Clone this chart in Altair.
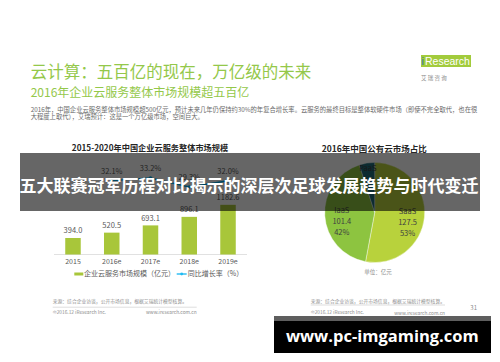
import altair as alt
import pandas as pd

# ---------------- data ----------------
years = ["2015", "2016e", "2017e", "2018e", "2019e"]
market = [394.0, 520.5, 693.1, 896.1, 1182.6]
growth = [None, 32.1, 33.2, 29.3, 32.0]

pie_names = ["SaaS", "IaaS", "PaaS"]
pie_values = [127.5, 101.4, 12.0]
pie_pct = ["53%", "42%", "5%"]

title_main = "云计算：五百亿的现在，万亿级的未来"
title_sub = "2016年企业云服务整体市场规模超五百亿"
body_lines = [
    "2016年，中国企业云服务整体市场规模超500亿元，预计未来几年仍保持约30%的年复合增长率。云服务的最终目标是整体软硬件市场（即使不完全取代，也在很",
    "大程度上取代），艾瑞预计：这是一个万亿级市场，空间巨大。",
]
bar_title = "2015-2020年中国企业云服务整体市场规模"
pie_title = "2016年中国公有云市场占比"
legend_bar = "企业云服务市场规模（亿元）"
legend_line = "同比增长率（%）"
unit_text = "单位：亿元"
source_text = "来源：综合企业访谈，公开市场信息，根据艾瑞统计模型核算。"
copyright_text = "©2016.12 iResearch Inc."
site_text = "www.iresearch.com.cn"
page_no = "31"
banner_text = "五大联赛冠军历程对比揭示的深层次足球发展趋势与时代变迁"
watermark = "www.pc-imgaming.com"

FONT = "Noto Sans CJK SC"
GREEN_T = "#94C84A"
GRAY = "#595959"
LGRAY = "#8C8C8C"

bar_df = pd.DataFrame({"year": years, "value": market, "growth": growth})
pie_df = pd.DataFrame({"name": pie_names, "value": pie_values, "pct": pie_pct,
                       "order": [0, 1, 2]})

one = pd.DataFrame({"a": [0]})


def txt(s, x, y, size, color=GRAY, align="left", weight="normal", font=FONT,
        baseline="middle"):
    return alt.Chart(pd.DataFrame({"t": [s]})).mark_text(
        align=align, baseline=baseline, fontSize=size, color=color,
        fontWeight=weight, font=font
    ).encode(text="t:N", x=alt.value(x), y=alt.value(y))


def rect(x, x2, y, y2, color, opacity=1.0):
    return alt.Chart(one).mark_rect(color=color, opacity=opacity).encode(
        x=alt.value(x), x2=alt.value(x2), y=alt.value(y), y2=alt.value(y2))


def hrule(x, x2, y, color, width=0.8):
    return alt.Chart(one).mark_rule(color=color, strokeWidth=width).encode(
        x=alt.value(x), x2=alt.value(x2), y=alt.value(y))


layers = []

# header
layers.append(txt(title_main, 22.7, 65, 16.5, GREEN_T))
layers.append(txt(title_sub, 22.7, 84.5, 12, GREEN_T))
layers.append(txt(body_lines[0], 22.7, 102, 6.3, "#6A6A6A"))
layers.append(txt(body_lines[1], 22.7, 109.3, 6.3, "#6A6A6A"))

# logo
layers.append(rect(413, 463, 47, 59, "#A2CB3C"))
layers.append(txt("i", 413.5, 53.5, 10.5, "#2A6FB5", font="Liberation Sans"))
layers.append(txt("Research", 417, 53.5, 10.5, "white", font="Liberation Sans"))
layers.append(txt("艾    瑞    咨    询", 413, 69.7, 5.5, LGRAY))

# ---------------- bar chart ----------------
xs = alt.X("year:N", sort=years, axis=None,
           scale=alt.Scale(range=[46, 239], paddingInner=0.6, paddingOuter=0.29))
ys = alt.Y("value:Q", axis=None, scale=alt.Scale(domain=[0, 2000], range=[246.5, 162.5]))
gs = alt.Y("growth:Q", axis=None, scale=alt.Scale(domain=[0, 36.5], range=[246.5, 162.5]))

base = alt.Chart(bar_df)
bars = base.mark_bar(color="#A8C63A").encode(x=xs, y=ys)
bar_labels = base.mark_text(baseline="bottom", dy=-2.5, fontSize=7.5, color=GRAY,
                            font=FONT).encode(x=xs, y=ys, text=alt.Text("value:Q", format=".1f"))
gline = base.transform_filter("datum.growth != null").mark_line(
    color="#00B0F0", strokeWidth=1.5,
    point=alt.OverlayMarkDef(color="#00B0F0", size=12)).encode(x=xs, y=gs)
glabels_pct = base.transform_filter("datum.growth != null").transform_calculate(
    lab="format(datum.growth, '.1f') + '%'").mark_text(
    baseline="bottom", dy=-5, fontSize=7.5, color=GRAY, font=FONT).encode(
    x=xs, y=gs, text="lab:N")
xlabels = base.mark_text(fontSize=7, color=GRAY, font=FONT, baseline="middle").encode(
    x=xs, y=alt.value(253.7), text="year:N")

bar_group = alt.layer(bars, bar_labels, gline, glabels_pct, xlabels).resolve_scale(
    y="independent")

layers.append(txt(bar_title, 142, 141, 8.2, "#262626", align="center", weight="bold"))
layers.append(hrule(46, 239, 246.5, "#D9D9D9"))
layers.append(bar_group)

# legend
layers.append(rect(66.3, 75.3, 264.5, 267.5, "#A8C63A"))
layers.append(txt(legend_bar, 76, 266, 7))
layers.append(hrule(168.7, 178.7, 266, "#00B0F0", 1.2))
layers.append(alt.Chart(one).mark_point(filled=True, color="#00B0F0", size=8).encode(
    x=alt.value(173.7), y=alt.value(266)))
layers.append(txt(legend_line, 179.7, 266, 7))

# ---------------- pie chart ----------------
CX, CY = 366.7, 204.5
theta = alt.Theta("value:Q", stack=True, scale=alt.Scale(range=[0, 6.2832]))
pcolor = alt.Color("name:N", legend=None,
                   scale=alt.Scale(domain=pie_names, range=["#B8D23C", "#8DC440", "#1F6B7A"]))
pbase = alt.Chart(pie_df)
arcs = pbase.mark_arc(radius=50, stroke="white", strokeWidth=0.4).encode(
    theta=theta, color=pcolor, order=alt.Order("order:Q"),
    x=alt.value(CX), y=alt.value(CY))


def plabel(field, dy, radius, names):
    return pbase.mark_text(radius=radius, dy=dy, fontSize=7.5, color="#404040",
                           font=FONT).encode(
        theta=theta, order=alt.Order("order:Q"), text=f"{field}:N",
        x=alt.value(CX), y=alt.value(CY),
        opacity=alt.condition(alt.FieldOneOfPredicate(field="name", oneOf=names),
                              alt.value(1), alt.value(0)))


pie_group = alt.layer(
    arcs,
    plabel("name", -3.5, 33, ["SaaS", "IaaS"]),
    plabel("value", 7.5, 33, ["SaaS", "IaaS"]),
    plabel("pct", 18.5, 33, ["SaaS", "IaaS"]),
    plabel("name", 0, 44, ["PaaS"]),
)
layers.append(txt(pie_title, 366.3, 141, 8.5, "#262626", align="center", weight="bold"))
layers.append(pie_group)
layers.append(txt(unit_text, 370, 264, 5.5, LGRAY, align="center"))

# ---------------- footers ----------------
layers.append(txt(source_text, 44.7, 294, 4.8, LGRAY))
layers.append(hrule(44.7, 188.7, 299.2, "#C8C8C8", 0.6))
layers.append(txt(copyright_text, 44.7, 304.5, 4.8, LGRAY))
layers.append(txt(site_text, 188.7, 304.5, 4.8, LGRAY, align="right"))

layers.append(txt(source_text, 302.7, 294, 4.8, LGRAY))
layers.append(hrule(302.7, 437, 297, "#C8C8C8", 0.6))
layers.append(txt(copyright_text, 302.7, 304.5, 4.8, LGRAY))
layers.append(txt(site_text, 437, 306, 4.8, LGRAY, align="right"))
layers.append(txt(page_no, 465.7, 300.3, 6, LGRAY, align="center"))

# ---------------- overlays ----------------
layers.append(rect(12, 472, 145, 203, "black", 0.6))
layers.append(txt(banner_text, 241, 178.7, 17, "white", align="center", weight="bold"))

layers.append(rect(266, 483, 308, 313, "#5E5E5E"))
layers.append(rect(266, 483, 313, 345, "black"))
layers.append(txt(watermark, 374.3, 333.7, 16.5, "white", weight="bold",
                  font="Open Sans", baseline="alphabetic", align="center"))

chart = alt.layer(*layers).resolve_scale(
    x="independent", y="independent", color="independent", theta="independent",
    opacity="independent"
).properties(
    width=484, height=346, padding=0,
    autosize=alt.AutoSizeParams(type="none"),
    background="white",
).configure_view(stroke=None)

chart.save("out.html", embed_options={"renderer": "svg", "actions": False})
